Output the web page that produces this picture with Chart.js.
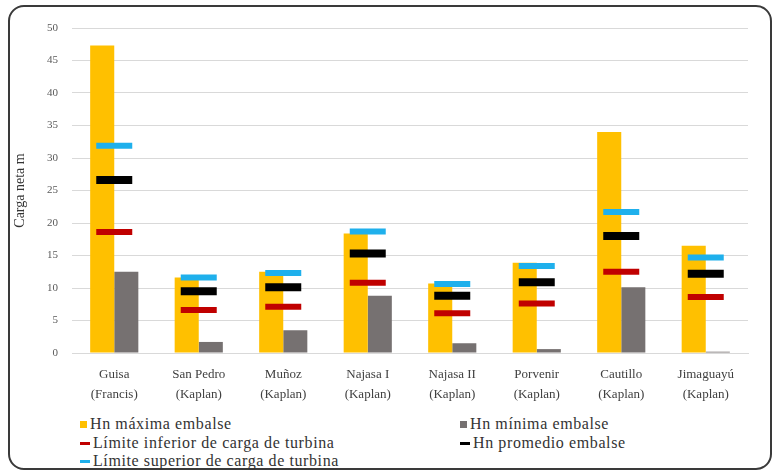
<!DOCTYPE html>
<html>
<head>
<meta charset="utf-8">
<script src="https://cdn.jsdelivr.net/npm/chart.js@4/dist/chart.umd.min.js"></script>
<style>
  body { margin: 0; background: #fff; }
  #wrap { position: relative; width: 774px; height: 472px; overflow: hidden; background: #fff; }
  #frame {
    position: absolute; left: 8px; top: 5px; width: 760px; height: 461px;
    border: 2px solid #3a3a3a; border-radius: 16px;
  }
  #chart { position: absolute; left: 0; top: 0; }
  .item {
    position: absolute; white-space: nowrap; height: 18px; line-height: 18px;
    font-family: "Liberation Serif", "Times New Roman", serif; font-size: 16px; letter-spacing: 0.6px; color: #333;
  }
  .mark { display: inline-block; vertical-align: middle; margin-right: 3px; position: relative; top: -1px; }
</style>
</head>
<body>
<div id="wrap">
  <div id="frame"></div>
  <canvas id="chart" width="774" height="410"></canvas>
  <div id="legend"></div>
</div>
<script>
const categories = [
  ["Guisa", "(Francis)"],
  ["San Pedro", "(Kaplan)"],
  ["Muñoz", "(Kaplan)"],
  ["Najasa I", "(Kaplan)"],
  ["Najasa II", "(Kaplan)"],
  ["Porvenir", "(Kaplan)"],
  ["Cautillo", "(Kaplan)"],
  ["Jimaguayú", "(Kaplan)"],
];

const hnMaxima = [47.3, 11.6, 12.5, 18.4, 10.7, 13.9, 34.0, 16.5];
const hnMinima = [12.5, 1.7, 3.5, 8.8, 1.5, 0.6, 10.1, 0.2];
const limiteInferior = [18.6, 6.6, 7.1, 10.8, 6.1, 7.6, 12.5, 8.6];
const hnPromedio = [26.6, 9.5, 10.1, 15.3, 8.8, 10.9, 18.0, 12.2];
const limiteSuperior = [31.9, 11.6, 12.3, 18.7, 10.6, 13.4, 21.7, 14.7];

const seriesLabels = [
  "Hn máxima embalse",
  "Hn mínima embalse",
  "Límite inferior de carga de turbina",
  "Hn promedio embalse",
  "Límite superior de carga de turbina",
];

const serif = "'Liberation Serif', 'Times New Roman', serif";

// dash markers drawn as points, no connecting line
function dash(label, data, color, width) {
  return {
    type: "line",
    label: label,
    data: data,
    showLine: false,
    pointStyle: "line",
    pointRadius: 18,
    pointBorderWidth: width,
    borderColor: color,
    backgroundColor: color,
    order: 1,
  };
}

const ctx = document.getElementById("chart").getContext("2d");

const chart = new Chart(ctx, {
  type: "bar",
  data: {
    labels: categories,
    datasets: [
      {
        label: seriesLabels[0],
        data: hnMaxima,
        backgroundColor: "#FFC000",
        barPercentage: 1.0,
        categoryPercentage: 0.57,
        order: 2,
      },
      {
        label: seriesLabels[1],
        data: hnMinima,
        backgroundColor: "#767171",
        barPercentage: 1.0,
        categoryPercentage: 0.57,
        order: 2,
      },
      dash(seriesLabels[2], limiteInferior, "#C00000", 6),
      dash(seriesLabels[3], hnPromedio, "#000000", 8),
      dash(seriesLabels[4], limiteSuperior, "#1FB0EC", 6),
    ],
  },
  options: {
    responsive: false,
    animation: false,
    events: [],
    layout: { padding: { left: 12, right: 4, top: 28, bottom: 0 } },
    plugins: {
      legend: { display: false },
      tooltip: { enabled: false },
    },
    scales: {
      x: {
        grid: { display: false },
        border: { color: "#d9d9d9" },
        ticks: {
          font: { family: serif, size: 13, lineHeight: 1.5 },
          color: "#404040",
          padding: 4,
          maxRotation: 0,
          autoSkip: false,
        },
        afterFit: (scale) => { scale.height = 57; },
      },
      y: {
        min: 0,
        max: 50,
        grid: { color: "#d9d9d9", drawTicks: false },
        border: { display: false },
        ticks: {
          stepSize: 5,
          font: { family: serif, size: 11 },
          color: "#595959",
          padding: 14,
        },
        title: {
          display: true,
          text: "Carga neta m",
          font: { family: serif, size: 14 },
          color: "#333",
          padding: 0,
        },
        afterFit: (scale) => { scale.width = 60; },
      },
    },
  },
});

// two-column legend like the original
const legendBox = document.getElementById("legend");
const colX = [80, 460];
const rowY = [415, 434, 452];
chart.data.datasets.forEach((ds, i) => {
  const item = document.createElement("div");
  item.className = "item";
  item.style.left = colX[i % 2] + "px";
  item.style.top = rowY[Math.floor(i / 2)] + "px";
  const mark = document.createElement("span");
  mark.className = "mark";
  if (ds.type === "line") {
    mark.style.width = "10px";
    mark.style.height = "3px";
    mark.style.background = ds.borderColor;
  } else {
    mark.style.width = "7px";
    mark.style.height = "7px";
    mark.style.background = ds.backgroundColor;
  }
  item.appendChild(mark);
  item.appendChild(document.createTextNode(ds.label));
  legendBox.appendChild(item);
});
</script>
</body>
</html>
